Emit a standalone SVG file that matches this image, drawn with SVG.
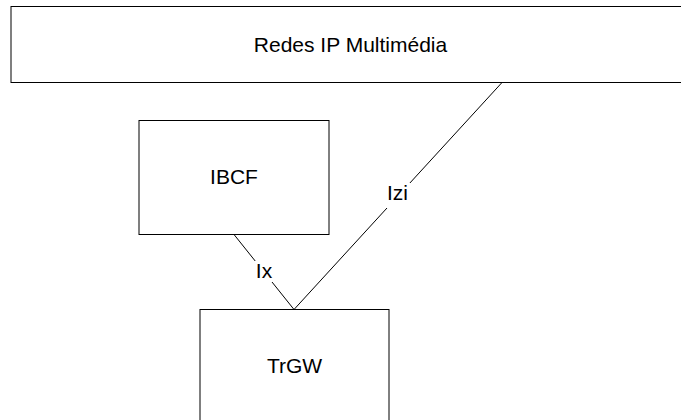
<svg xmlns="http://www.w3.org/2000/svg" width="681" height="420" viewBox="0 0 681 420">
  <style>
    .box { fill: #ffffff; stroke: #000000; stroke-width: 1; }
    .link { fill: none; stroke: #000000; stroke-width: 1; }
    .label { font-family: "Liberation Sans", Arial, sans-serif; font-size: 21px; fill: #000000; text-anchor: middle; }
    .gap { fill: #ffffff; stroke: none; }
  </style>
  <rect x="0" y="0" width="681" height="420" fill="#ffffff"/>

  <g id="connectors">
    <line class="link" x1="234" y1="234.5" x2="294" y2="309.5"/>
    <line class="link" x1="502" y1="82.5" x2="294" y2="309.5"/>
    <rect class="gap" x="255" y="261" width="19" height="21"/>
    <text class="label" x="264" y="278">Ix</text>
    <rect class="gap" x="385" y="183" width="25" height="25"/>
    <text class="label" x="397.5" y="199.5">Izi</text>
  </g>

  <g id="redes-ip-multimedia">
    <rect class="box" x="11" y="6.5" width="690" height="76"/>
    <text class="label" x="350.5" y="52">Redes IP Multimédia</text>
  </g>

  <g id="ibcf">
    <rect class="box" x="139" y="120.5" width="190" height="114"/>
    <text class="label" x="234" y="183.5">IBCF</text>
  </g>

  <g id="trgw">
    <rect class="box" x="200" y="309.5" width="189" height="140"/>
    <text class="label" x="294.5" y="373">TrGW</text>
  </g>
</svg>
